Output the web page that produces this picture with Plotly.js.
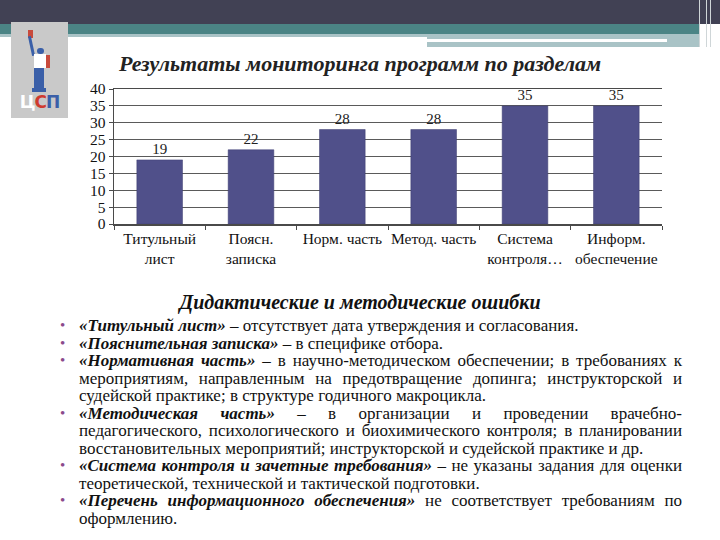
<!DOCTYPE html>
<html>
<head>
<meta charset="utf-8">
<script src="https://cdn.plot.ly/plotly-3.0.1.min.js"></script>
<style>
  html, body { margin:0; padding:0; background:#fff; }
  #wrap { position:relative; width:720px; height:540px; overflow:hidden; background:#fff; }
  #chart { position:absolute; left:0; top:0; width:720px; height:540px; }
  .band { position:absolute; }
  #body { position:absolute; left:79px; top:317px; width:603px; font-family:'Liberation Serif', serif; font-size:17px; line-height:17.5px; color:#111; }
  .ln { white-space:nowrap; text-align:left; }
  .ln.j { text-align:justify; text-align-last:justify; }
  .item { position:relative; }
  .bul { position:absolute; left:-19px; top:0; color:#8a4a8c; font-size:15px; }
  .k { font-weight:bold; font-style:italic; }
  #sub { position:absolute; left:0; width:720px; top:291px; text-align:center; font-family:'Liberation Serif', serif; font-weight:bold; font-style:italic; font-size:20px; color:#111; }
  #logo { position:absolute; left:11px; top:22px; width:57px; height:96px; background:#c9c9c9; }
</style>
</head>
<body>
<div id="wrap">
  <div class="band" style="left:0;top:0;width:720px;height:24px;background:#414154;"></div>
  <div class="band" style="left:0;top:24px;width:700px;height:10px;background:#4b8485;"></div>
  <div class="band" style="left:0;top:34px;width:427px;height:3px;background:#a9c3c6;"></div>
  <div class="band" style="left:427px;top:34px;width:273px;height:13px;background:#a9c3c6;"></div>
  <div class="band" style="left:427px;top:39px;width:240px;height:3px;background:#ffffff;"></div>
  <div class="band" style="left:699px;top:0;width:1px;height:47px;background:#cfd6d8;"></div>
  <div class="band" style="left:706px;top:0;width:1px;height:47px;background:#cfd6d8;"></div>
  <div class="band" style="left:710px;top:0;width:1px;height:47px;background:#cfd6d8;"></div>
  <div id="chart"></div>
  <div id="logo">
    <div style="position:absolute;left:17px;top:8px;width:5px;height:8px;background:#c84a3c;"></div>
    <div style="position:absolute;left:19px;top:14px;width:3px;height:20px;background:#3a5fa8;transform:rotate(-12deg);"></div>
    <div style="position:absolute;left:26px;top:26px;width:7px;height:6px;border-radius:3px;background:#3a5fa8;"></div>
    <div style="position:absolute;left:23px;top:32px;width:12px;height:14px;background:#ffffff;"></div>
    <div style="position:absolute;left:35px;top:33px;width:4px;height:13px;background:#c84a3c;"></div>
    <div style="position:absolute;left:23px;top:46px;width:10px;height:22px;background:#3a5fa8;"></div>
    <div style="position:absolute;left:21px;top:66px;width:14px;height:4px;background:#3a5fa8;"></div>
    <div style="position:absolute;left:0;top:70px;width:57px;text-align:center;font-family:'DejaVu Sans', sans-serif;font-weight:bold;font-size:17px;letter-spacing:-1px;"><span style="color:#ffffff">Ц</span><span style="color:#d03a2e">С</span><span style="color:#3a5fa8">П</span></div>
  </div>
  <div id="sub">Дидактические и методические ошибки</div>
  <div id="body">
    <div class="item"><span class="bul">•</span><div class="ln"><span class="k">«Титульный лист»</span> – отсутствует дата утверждения и согласования.</div></div>
    <div class="item"><span class="bul">•</span><div class="ln"><span class="k">«Пояснительная записка»</span> – в специфике отбора.</div></div>
    <div class="item"><span class="bul">•</span>
      <div class="ln j"><span class="k">«Нормативная часть»</span> – в научно-методическом обеспечении; в требованиях к</div>
      <div class="ln j">мероприятиям, направленным на предотвращение допинга; инструкторской и</div>
      <div class="ln">судейской практике; в структуре годичного макроцикла.</div>
    </div>
    <div class="item"><span class="bul">•</span>
      <div class="ln j"><span class="k">«Методическая часть»</span> – в организации и проведении врачебно-</div>
      <div class="ln j">педагогического, психологического и биохимического контроля; в планировании</div>
      <div class="ln">восстановительных мероприятий; инструкторской и судейской практике и др.</div>
    </div>
    <div class="item"><span class="bul">•</span>
      <div class="ln j"><span class="k">«Система контроля и зачетные требования»</span> – не указаны задания для оценки</div>
      <div class="ln">теоретической, технической и тактической подготовки.</div>
    </div>
    <div class="item"><span class="bul">•</span>
      <div class="ln j"><span class="k">«Перечень информационного обеспечения»</span> не соответствует требованиям по</div>
      <div class="ln">оформлению.</div>
    </div>
  </div>
</div>
<script>
const categories = ['Титульный<br>лист', 'Поясн.<br>записка', 'Норм. часть', 'Метод. часть', 'Система<br>контроля…', 'Информ.<br>обеспечение'];
const values = [19, 22, 28, 28, 35, 35];
const yTicks = [0, 5, 10, 15, 20, 25, 30, 35, 40];
const chartTitle = 'Результаты мониторинга программ по разделам';

const serif = 'Liberation Serif, serif';
const trace = {
  type: 'bar',
  x: categories,
  y: values,
  text: values.map(String),
  textposition: 'outside',
  cliponaxis: false,
  textfont: {family: serif, size: 15, color: '#222'},
  marker: {color: '#50508a', line: {color: '#3c3c70', width: 0.5}},
  hoverinfo: 'none'
};
const layout = {
  width: 720, height: 540,
  paper_bgcolor: 'rgba(0,0,0,0)', plot_bgcolor: 'rgba(0,0,0,0)',
  font: {family: serif},
  margin: {l: 114, r: 58, t: 89, b: 316},
  bargap: 0.5,
  showlegend: false,
  title: {text: '<b><i>' + chartTitle + '</i></b>', xref: 'container', x: 0.5, xanchor: 'center', yref: 'container', y: 1 - 63/540, yanchor: 'middle', font: {family: serif, size: 22, color: '#222'}},
  xaxis: {
    type: 'category', showline: true, mirror: true, linecolor: '#4a4a4a', linewidth: 1.5,
    ticks: 'outside', tickson: 'boundaries', ticklen: 4, tickcolor: '#4a4a4a', tickangle: 0,
    showgrid: false, tickfont: {family: serif, size: 15.5, color: '#111'}, fixedrange: true, automargin: false
  },
  yaxis: {
    range: [0, 40], tickvals: yTicks, ticktext: yTicks.map(String),
    showline: true, linecolor: '#4a4a4a', linewidth: 1.5, ticks: 'outside', ticklen: 4, tickcolor: '#4a4a4a',
    showgrid: true, gridcolor: '#5a5a5a', gridwidth: 1, zeroline: false,
    tickfont: {family: serif, size: 15.5, color: '#111'}, fixedrange: true, automargin: false
  }
};
Plotly.newPlot('chart', [trace], layout, {staticPlot: true, displayModeBar: false});
</script>
</body>
</html>
